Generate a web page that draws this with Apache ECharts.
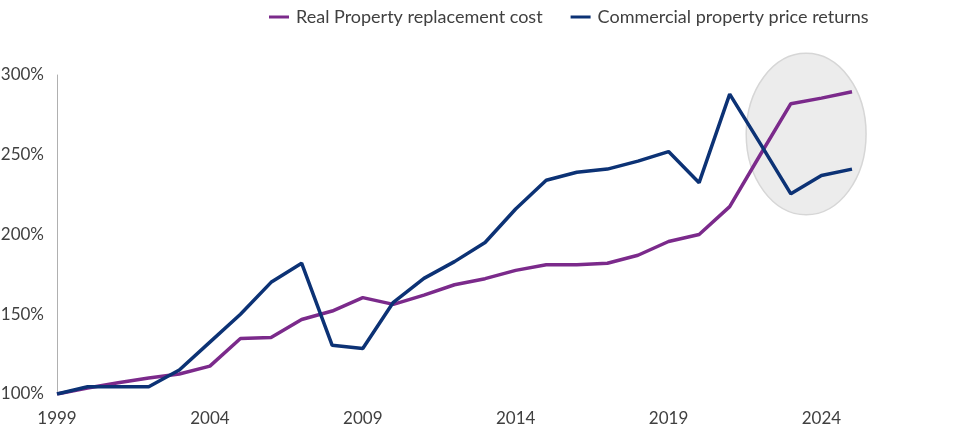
<!DOCTYPE html>
<html>
<head>
<meta charset="utf-8">
<script src="https://cdn.jsdelivr.net/npm/echarts@6/dist/echarts.min.js"></script>
<style>
  html, body { margin: 0; padding: 0; background: #fff; }
  #main { width: 966px; height: 437px; }
</style>
</head>
<body>
<div id="main"></div>
<script>
// years 1999..2025
var years = ['1999', '2000', '2001', '2002', '2003', '2004', '2005', '2006', '2007', '2008',
  '2009', '2010', '2011', '2012', '2013', '2014', '2015', '2016', '2017', '2018',
  '2019', '2020', '2021', '2022', '2023', '2024', '2025'];

// indexed, 1999 = 100
var replacementCost = [100, 103.7, 107, 110, 112.5, 117.5, 134.8, 135.4, 146.7, 152,
  160.4, 156.2, 162, 168.5, 172.3, 177.5, 181, 181, 182, 187,
  195.6, 200, 217.5, 250, 282, 285.5, 289.5];

var priceReturns = [100, 104.5, 104.5, 104.5, 115, 132.5, 150, 170, 182, 130.5,
  128.5, 157.5, 172.5, 183, 195, 216, 234, 239, 241, 246,
  252, 232.5, 288, 257, 225.5, 237, 241];

var seriesNames = ['Real Property replacement cost', 'Commercial property price returns'];

// highlighted zone (data units): centre index / value and radii
var zoneCenter = [24.5, 263];
var zoneRadius = [1.96, 50.6];

var font = "Lato, 'Noto Sans', sans-serif";

var myChart = echarts.init(document.getElementById('main'));

var option = {
  animation: false,
  grid: { left: 57, right: 114, top: 75, bottom: 43, outerBoundsMode: 'none' },
  legend: {
    left: 264,
    top: 3,
    icon: 'rect',
    itemWidth: 20,
    itemHeight: 3,
    itemGap: 28,
    textStyle: { fontFamily: font, fontSize: 18, color: '#404040', padding: [0, 0, 0, 2] },
    data: seriesNames
  },
  xAxis: {
    type: 'category',
    data: years,
    boundaryGap: false,
    axisLine: { show: false },
    axisTick: { show: false },
    axisLabel: {
      interval: 4,
      margin: 16,
      fontFamily: font,
      fontSize: 17,
      color: '#404040'
    }
  },
  yAxis: {
    type: 'value',
    min: 100,
    max: 300,
    interval: 50,
    axisLine: { show: true, lineStyle: { color: '#b0b0b0', width: 1 } },
    axisTick: { show: false },
    splitLine: { show: false },
    axisLabel: {
      margin: 13,
      fontFamily: font,
      fontSize: 17,
      color: '#404040',
      formatter: '{value}%'
    }
  },
  series: [
    {
      name: seriesNames[0],
      type: 'line',
      data: replacementCost,
      symbol: 'none',
      itemStyle: { color: '#7b2a8b' },
      lineStyle: { color: '#7b2a8b', width: 3.5 },
      z: 3
    },
    {
      name: seriesNames[1],
      type: 'line',
      data: priceReturns,
      symbol: 'none',
      itemStyle: { color: '#0c3275' },
      lineStyle: { color: '#0c3275', width: 3.5 },
      z: 3
    }
  ]
};

myChart.setOption(option);

// grey ellipse behind the last few years (category axis only converts whole indices)
var toPx = function (i, v) {
  return myChart.convertToPixel({ xAxisIndex: 0, yAxisIndex: 0 }, [i, v]);
};
var p0 = toPx(0, zoneCenter[1]);
var p1 = toPx(1, zoneCenter[1] + zoneRadius[1]);
var step = p1[0] - p0[0];
var cx = p0[0] + step * zoneCenter[0];
var cy = p0[1];
myChart.setOption({
  graphic: [{
    type: 'ellipse',
    z: 0,
    shape: { cx: cx, cy: cy, rx: step * zoneRadius[0], ry: Math.abs(p0[1] - p1[1]) },
    style: { fill: '#ececec', stroke: '#d6d6d6', lineWidth: 1.5 }
  }]
});
</script>
</body>
</html>
